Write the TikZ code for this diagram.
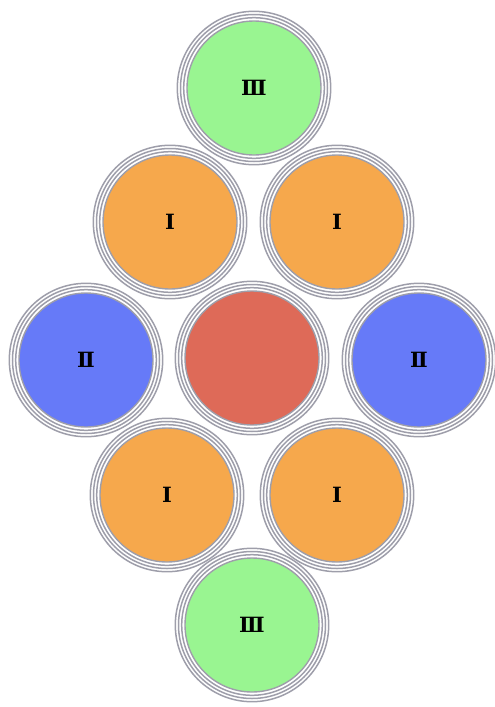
\documentclass[tikz,border=0pt]{standalone}
\usepackage{fontspec}
\setmainfont{DejaVu Serif}
\usepackage{tikz}
\usetikzlibrary{positioning}

\definecolor{ringgray}{RGB}{158,158,170}
\definecolor{cellgreen}{RGB}{153,245,145}
\definecolor{cellorange}{RGB}{246,168,76}
\definecolor{cellblue}{RGB}{102,122,248}
\definecolor{cellred}{RGB}{222,106,88}

\begin{document}
\begin{tikzpicture}[
      x=1pt, y=-1pt,
      cell/.style={circle, draw=ringgray, line width=1.4pt, fill=#1,
                   minimum size=134pt, inner sep=0pt,
                   font=\bfseries\fontsize{21}{21}\selectfont},
      ring/.style={draw=ringgray, line width=1.5pt},
    ]
    \useasboundingbox (0,0) rectangle (495,707);
    % the cells, row by row
    \node[cell=cellgreen]  (g1) at (254,88)  {Ⅲ};
    \node[cell=cellorange] (o1) at (170,222) {Ⅰ};
    \node[cell=cellorange] (o2) at (337,222) {Ⅰ};
    \node[cell=cellblue]   (b1) at (86,360)  {Ⅱ};
    \node[cell=cellred]    (c)  at (252,358) {};
    \node[cell=cellblue]   (b2) at (419,360) {Ⅱ};
    \node[cell=cellorange] (o3) at (167,495) {Ⅰ};
    \node[cell=cellorange] (o4) at (337,495) {Ⅰ};
    \node[cell=cellgreen]  (g2) at (252,625) {Ⅲ};
    % triple rings round every cell
    \foreach \n in {g1,o1,o2,b1,c,b2,o3,o4,g2}
      \foreach \r in {70.3,73.5,76.7}
        \draw[ring] (\n) circle[radius=\r];
  \end{tikzpicture}
\end{document}
